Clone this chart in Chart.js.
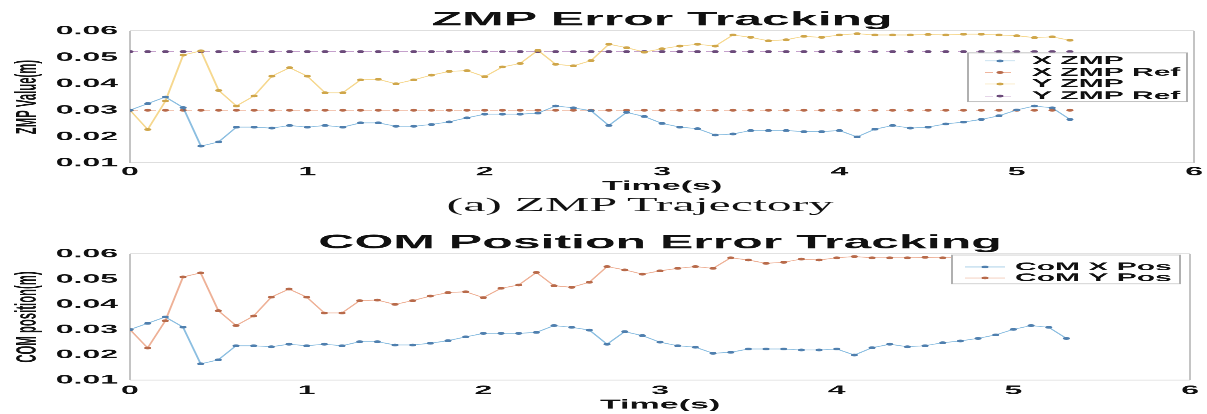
<!DOCTYPE html>
<html><head><meta charset="utf-8">
<script src="https://cdn.jsdelivr.net/npm/chart.js@4/dist/chart.umd.min.js"></script>
<style>
html,body{margin:0;padding:0;background:#fff;overflow:hidden;width:1207px;height:414px;}
#wrap{position:absolute;left:0;top:0;width:1207px;height:1060px;transform:scaleY(0.390566);transform-origin:0 0;}
canvas{display:block;}
#cap{position:absolute;left:0;width:1280px;top:495px;height:50px;line-height:50px;text-align:center;font:50px "Liberation Serif",serif;color:#111;}
</style></head><body>
<div id="wrap">
<canvas id="c1" width="1207" height="568"></canvas>
<canvas id="c2" width="1207" height="492"></canvas>
<div id="cap">(a) ZMP Trajectory</div>
</div>
<script>
const timeS = [0,0.1,0.2,0.3,0.4,0.5,0.6,0.7,0.8,0.9,1.0,1.1,1.2,1.3,1.4,1.5,1.6,1.7,1.8,1.9,2.0,2.1,2.2,2.3,2.4,2.5,2.6,2.7,2.8,2.9,3.0,3.1,3.2,3.3,3.4,3.5,3.6,3.7,3.8,3.9,4.0,4.1,4.2,4.3,4.4,4.5,4.6,4.7,4.8,4.9,5.0,5.1,5.2,5.3];
const xPos = [0.030,0.0325,0.035,0.031,0.0164,0.018,0.0236,0.0236,0.0232,0.0242,0.0236,0.0242,0.0236,0.0252,0.0252,0.0239,0.0239,0.0246,0.0256,0.0271,0.0285,0.0285,0.0285,0.0289,0.0316,0.0309,0.0298,0.0242,0.0292,0.0276,0.025,0.0236,0.023,0.0206,0.021,0.0223,0.0223,0.0223,0.0219,0.0219,0.0223,0.0199,0.0228,0.0242,0.0232,0.0236,0.0248,0.0255,0.0265,0.0279,0.0301,0.0316,0.0309,0.0265];
const yPos = [0.030,0.0227,0.0335,0.0509,0.0525,0.0375,0.0316,0.0354,0.0429,0.0461,0.0429,0.0366,0.0366,0.0415,0.0417,0.040,0.0415,0.0433,0.0447,0.045,0.0427,0.0464,0.0477,0.0527,0.0474,0.0468,0.0488,0.055,0.0537,0.052,0.0533,0.0543,0.055,0.0543,0.0585,0.0576,0.0563,0.0567,0.058,0.0576,0.0585,0.059,0.0585,0.0585,0.0585,0.0587,0.0585,0.0588,0.0588,0.0585,0.0582,0.0575,0.0578,0.0565];
const xRef = [0.03,0.03,0.03,0.03,0.03,0.03,0.03,0.03,0.03,0.03,0.03,0.03,0.03,0.03,0.03,0.03,0.03,0.03,0.03,0.03,0.03,0.03,0.03,0.03,0.03,0.03,0.03,0.03,0.03,0.03,0.03,0.03,0.03,0.03,0.03,0.03,0.03,0.03,0.03,0.03,0.03,0.03,0.03,0.03,0.03,0.03,0.03,0.03,0.03,0.03,0.03,0.03,0.03,0.03];
const yRef = [0.0522,0.0522,0.0522,0.0522,0.0522,0.0522,0.0522,0.0522,0.0522,0.0522,0.0522,0.0522,0.0522,0.0522,0.0522,0.0522,0.0522,0.0522,0.0522,0.0522,0.0522,0.0522,0.0522,0.0522,0.0522,0.0522,0.0522,0.0522,0.0522,0.0522,0.0522,0.0522,0.0522,0.0522,0.0522,0.0522,0.0522,0.0522,0.0522,0.0522,0.0522,0.0522,0.0522,0.0522,0.0522,0.0522,0.0522,0.0522,0.0522,0.0522,0.0522,0.0522,0.0522,0.0522];
const xTicks = [0,1,2,3,4,5,6];
const yTicks = [0.01,0.02,0.03,0.04,0.05,0.06];
const topLabels = ['X ZMP','X ZMP Ref','Y ZMP','Y ZMP Ref'];
const botLabels = ['CoM X Pos','CoM Y Pos'];

const SANS = '"Liberation Sans", Arial, sans-serif';
const pts = arr => arr.map((v,i)=>({x:timeS[i], y:v}));

function ds(label, data, line, mark, dash){
  return {label, data: pts(data), borderColor: line, backgroundColor: mark,
    pointBackgroundColor: mark, pointBorderColor: mark, pointRadius: 3.5, pointBorderWidth: 0,
    borderWidth: 2, borderDash: dash||[], tension: 0, fill: false};
}

const boxLegend = {
  id:'boxLegend',
  afterDatasetsDraw(chart, args, o){
    const c = chart.ctx, a = chart.chartArea;
    c.save();
    c.fillStyle='#fff'; c.strokeStyle='#b0b0b0'; c.lineWidth=2;
    c.fillRect(o.x, a.top+o.y, o.w, o.h); c.strokeRect(o.x, a.top+o.y, o.w, o.h);
    c.font = 'bold 30px '+SANS; c.textBaseline='middle'; c.textAlign='left'; 
    chart.data.datasets.forEach((d,i)=>{
      const cy = a.top + o.rows[i];
      c.strokeStyle=d.borderColor; c.lineWidth=d.borderWidth; c.setLineDash(d.borderDash);
      c.beginPath(); c.moveTo(o.l0,cy); c.lineTo(o.l1,cy); c.stroke();
      c.setLineDash([]);
      c.fillStyle=d.pointBackgroundColor; c.beginPath(); c.arc((o.l0+o.l1)/2,cy,3.5,0,Math.PI*2); c.fill();
      c.fillStyle='#111'; c.fillText(d.label, o.tx, cy);
    });
    c.restore();
  }
};

function makeChart(id, datasets, o){
  return new Chart(document.getElementById(id), {
    type:'line',
    data:{datasets},
    plugins:[boxLegend],
    options:{
      responsive:false, animation:false, devicePixelRatio:1,
      layout:{padding:{left:0,right:11,top:0,bottom:o.padBottom}},
      plugins:{
        legend:{display:false}, tooltip:{enabled:false},
        title:{display:true, text:o.title, fullSize:false, color:'#111',
          font:{family:SANS, size:50, weight:'bold', lineHeight:1},
          padding:{top:o.tTop, bottom:o.tBot}},
        boxLegend:o.legend
      },
      scales:{
        x:{type:'linear', min:0, max:6,
          afterBuildTicks: s => { s.ticks = xTicks.map(v=>({value:v})); },
          afterFit: s => { s.height = o.xH; },
          grid:{drawTicks:false, lineWidth:2, color: c => (c.index===0||c.index===xTicks.length-1)?'#c4c4c4':'rgba(0,0,0,0)'},
          border:{display:false},
          ticks:{padding:o.xPad, color:'#111', font:{family:SANS,size:32,weight:'bold'}, callback:v=>String(v)},
          title:{display:true, text:'Time(s)', color:'#111', font:{family:SANS,size:34,weight:'bold',lineHeight:1}, padding:{top:0,bottom:o.xtPad}}
        },
        y:{type:'linear', min:0.01, max:0.06,
          afterBuildTicks: s => { s.ticks = yTicks.map(v=>({value:v})); },
          afterFit: s => { s.width = 130; },
          grid:{drawTicks:false, lineWidth:2, color: c => (c.index===0||c.index===yTicks.length-1)?'#c4c4c4':'rgba(0,0,0,0)'},
          border:{display:false},
          ticks:{padding:12, color:'#111', font:{family:SANS,size:32,weight:'bold'}, callback:v=>Number(v).toFixed(2)},
          title:{display:true, text:o.ytitle, color:'#111', font:{family:SANS,size:29,weight:'bold',lineHeight:1}, padding:{top:13.5,bottom:0}}
        }
      }
    }
  });
}

const C_BLUE_L='rgba(0,114,189,0.45)', C_BLUE_M='#4f7fae';
const C_OR_L='rgba(217,83,25,0.45)', C_OR_M='#b86a4a';
const C_YE_L='rgba(237,177,32,0.5)', C_YE_M='#cfa64a';
const C_PU_L='rgba(126,47,142,0.45)', C_PU_M='#6b4a7a';

makeChart('c1', [
  ds(topLabels[0], xPos, C_BLUE_L, C_BLUE_M),
  ds(topLabels[1], xRef, C_OR_L, C_OR_M, [8,10]),
  ds(topLabels[2], yPos, C_YE_L, C_YE_M),
  ds(topLabels[3], yRef, C_PU_L, C_PU_M, [8,10])
], {title:'ZMP Error Tracking', tTop:26, tBot:3.4, padBottom:72.4, xH:78.3, xPad:4, xtPad:2.4,
   ytitle:'ZMP Value(m)',
   legend:{x:968, y:56, w:219, h:125, l0:985, l1:1015, tx:1032, rows:[76.6,106.2,135.6,166.6]}});

makeChart('c2', [
  ds(botLabels[0], xPos, C_BLUE_L, C_BLUE_M),
  ds(botLabels[1], yPos, C_OR_L, C_OR_M)
], {title:'COM Position Error Tracking', tTop:29.1, tBot:3.2, padBottom:0, xH:87.1, xPad:8, xtPad:6.1,
   ytitle:'COM position(m)',
   legend:{x:952, y:2.5, w:228, h:74, l0:965, l1:1005, tx:1015, rows:[33.3,61.4]}});
</script>
</body></html>
